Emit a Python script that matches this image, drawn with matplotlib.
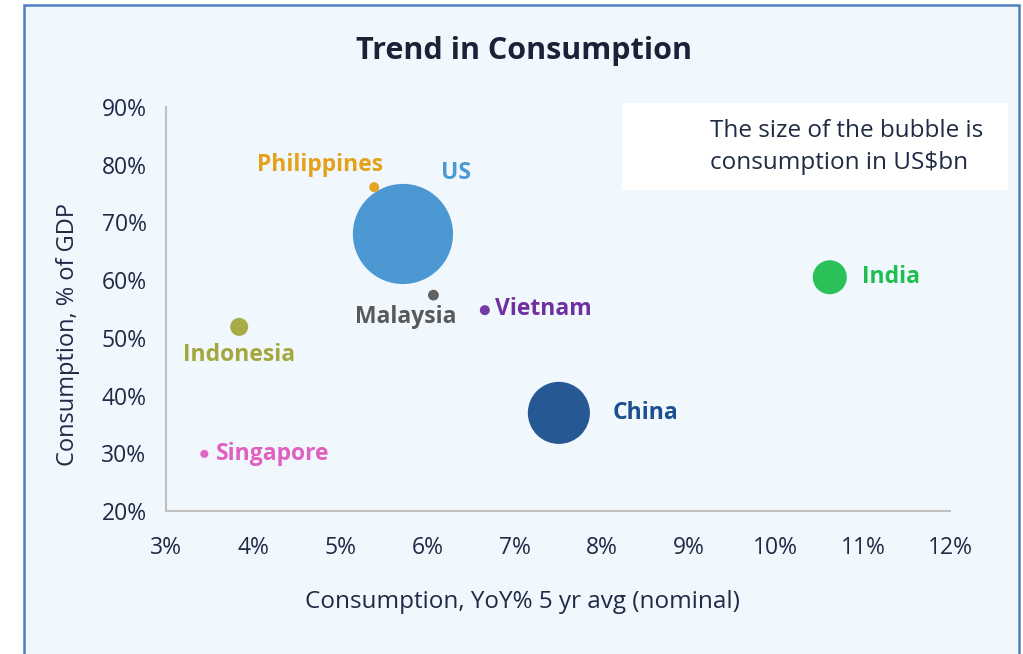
import matplotlib.pyplot as plt
from matplotlib.patches import Rectangle
from matplotlib.ticker import FuncFormatter

plt.rcParams['font.family'] = ['Open Sans', 'DejaVu Sans']

# data
countries = ["US", "China", "India", "Indonesia", "Philippines",
             "Malaysia", "Vietnam", "Singapore"]
growth = [5.72, 7.51, 10.62, 3.84, 5.39, 6.07, 6.66, 3.44]      # YoY% 5yr avg
cons_gdp = [68.0, 37.0, 60.5, 51.9, 76.1, 57.4, 54.8, 29.9]     # % of GDP
cons_usd = [13000, 5000, 1500, 420, 130, 150, 130, 85]          # US$bn
colors = ["#4393d0", "#1b4f8e", "#1fbf4f", "#a4a83c", "#e3a21a",
          "#595959", "#7030a0", "#e060c0"]
label_colors = ["#4a9ad4", "#1b4f8e", "#1fbf4f", "#a4a83c", "#e3a21a",
                "#595959", "#7030a0", "#e060c0"]
# label offsets in points, and alignment
offsets = [(38, 44), (39, 0), (23, 0), (0, -20), (-39, 16),
           (-20, -16), (7, 1), (8, 0)]
aligns = ["center", "left", "left", "center", "center",
          "center", "left", "left"]

fig = plt.figure(figsize=(10.23, 6.54), dpi=100)
fig.patch.set_facecolor("white")
panel = Rectangle((24 / 1023, -0.1), (1019 - 24) / 1023, 1.1 - 5 / 654,
                  transform=fig.transFigure, facecolor="#f0f7fd",
                  edgecolor="#4f7fbf", linewidth=1.8, zorder=-2)
fig.patches.append(panel)
box = Rectangle((622 / 1023, 1 - 190 / 654), (1008 - 622) / 1023, 87 / 654,
                transform=fig.transFigure, facecolor="white", edgecolor="none",
                zorder=-1)
fig.patches.append(box)

ax = fig.add_axes([166 / 1023, 1 - 511 / 654, (950 - 166) / 1023, (511 - 107) / 654])
ax.set_facecolor("none")

ax.scatter(growth, cons_gdp, s=[c * 0.4 for c in cons_usd], c=colors,
           alpha=0.95, linewidths=0, zorder=3)

for name, x, y, col, off, ha in zip(countries, growth, cons_gdp,
                                    label_colors, offsets, aligns):
    ax.annotate(name, (x, y), xytext=off, textcoords="offset points",
                ha=ha, va="center", color=col, fontsize=16.5, fontweight="bold")

ax.set_xlim(3, 12)
ax.set_ylim(20, 90)
ax.set_xticks(range(3, 13))
ax.set_yticks(range(20, 91, 10))
ax.xaxis.set_major_formatter(FuncFormatter(lambda v, p: f"{v:.0f}%"))
ax.yaxis.set_major_formatter(FuncFormatter(lambda v, p: f"{v:.0f}%"))
ax.tick_params(length=0, labelsize=16.5, colors="#1f2a44")
ax.tick_params(axis="x", pad=18)
ax.tick_params(axis="y", pad=14)
for side in ["top", "right"]:
    ax.spines[side].set_visible(False)
for side in ["left", "bottom"]:
    ax.spines[side].set_color("#c0c0c0")
    ax.spines[side].set_linewidth(1.5)

# axis titles sit off-centre in the original
fig.text(522 / 1023, 1 - 602 / 654, "Consumption, YoY% 5 yr avg (nominal)",
         ha="center", va="center", fontsize=17.5, color="#1f2a44")
fig.text(68 / 1023, 1 - 335 / 654, "Consumption, % of GDP", rotation=90,
         ha="center", va="center", fontsize=17, color="#1f2a44")

fig.text(524 / 1023, 1 - 51 / 654, "Trend in Consumption", ha="center",
         va="center", fontsize=22, fontweight="bold", color="#1a2238")

fig.text(710 / 1023, 1 - 147 / 654, "The size of the bubble is\nconsumption in US$bn",
         ha="left", va="center", fontsize=17.5, color="#1f2a44", linespacing=1.45)

fig.savefig("out.png", dpi=100)
